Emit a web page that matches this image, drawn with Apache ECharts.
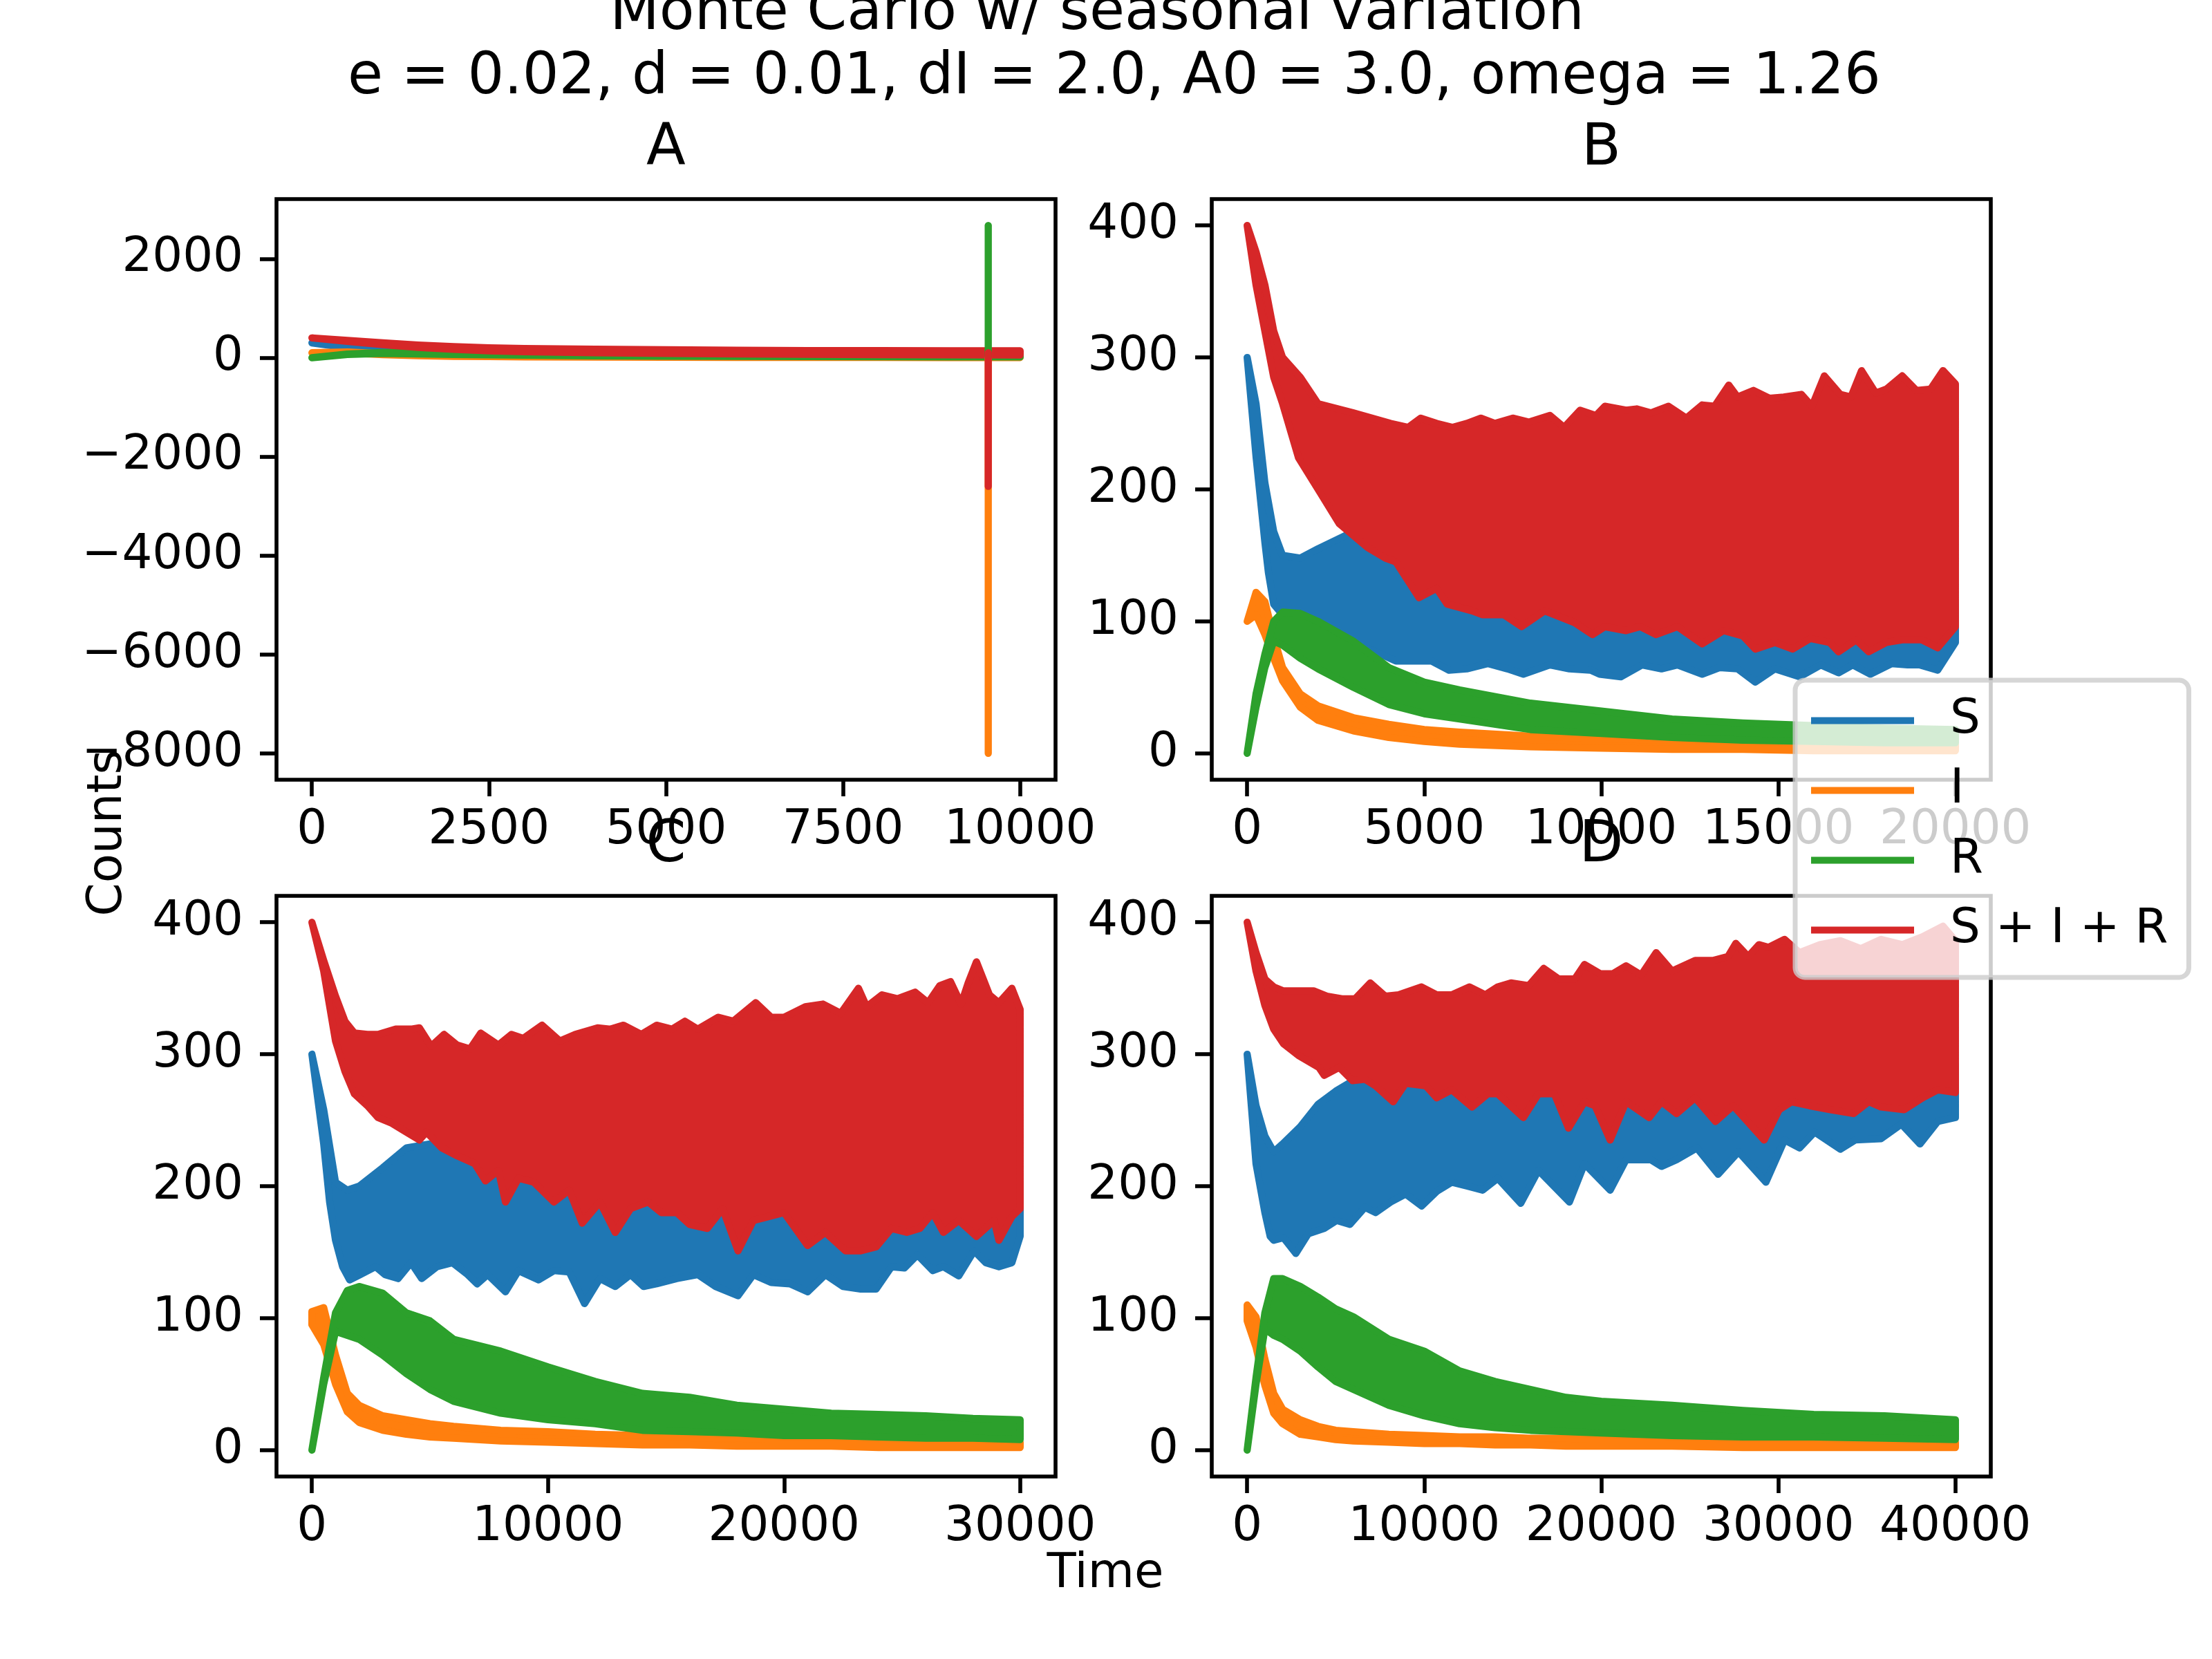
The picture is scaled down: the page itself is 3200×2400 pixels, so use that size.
<!DOCTYPE html>
<html>
<head>
<meta charset="utf-8">
<script src="https://cdn.jsdelivr.net/npm/echarts@6/dist/echarts.min.js"></script>
<style>
  html, body { margin: 0; padding: 0; background: #fff; }
  #chart { width: 3200px; height: 2400px; }
</style>
</head>
<body>
<div id="chart"></div>
<script>
// data: lower / upper edge of each noisy band
// --- run A (10000 steps)
var timeA = [0, 500, 1000, 1500, 2000, 2500, 3000, 4000, 5000, 6000, 7000, 8000, 9000, 10000]
var sLoA = [300, 200, 130, 110, 100, 90, 80, 70, 65, 62, 60, 58, 58, 58]
var sHiA = [300, 240, 180, 160, 160, 155, 150, 140, 130, 120, 115, 112, 110, 110]
var iLoA = [100, 95, 60, 40, 28, 22, 17, 12, 9, 7, 6, 5, 4, 4]
var iHiA = [100, 115, 80, 55, 40, 32, 27, 22, 18, 15, 13, 12, 11, 10]
var rLoA = [0, 65, 85, 75, 65, 58, 50, 37, 30, 26, 22, 18, 16, 15]
var rHiA = [0, 75, 105, 105, 100, 92, 85, 65, 54, 48, 42, 38, 35, 32]
var totLoA = [400, 330, 265, 210, 170, 140, 120, 100, 85, 75, 68, 62, 58, 55]
var totHiA = [400, 350, 300, 255, 225, 200, 185, 170, 160, 150, 145, 142, 140, 140]
// the single bad step in run A
var spikeTimeA = 9550
var iSpikeA = [8, -8000]
var rSpikeA = [25, 2673]
var totSpikeA = [100, -2600]

// --- run B (20000 steps)
var timeB = [0, 250, 500, 750, 1000, 1500, 2000, 3000, 4000, 5000, 6000, 8000, 10000, 12000, 14000, 16000, 18000, 20000]
var sHiB = [300, 265, 205, 168, 150, 148, 155, 168, 160, 150, 140, 130, 120, 115, 112, 112, 112, 115]
var iLoB = [100, 105, 90, 72, 55, 35, 25, 17, 12, 9, 7, 5, 4, 3, 3, 2, 2, 2]
var iHiB = [100, 122, 115, 88, 65, 45, 36, 27, 22, 18, 16, 13, 11, 10, 9, 8, 8, 7]
var rLoB = [0, 35, 65, 85, 82, 72, 64, 50, 37, 30, 26, 18, 15, 12, 10, 9, 8, 8]
var rHiB = [0, 45, 75, 100, 107, 106, 100, 85, 65, 54, 48, 38, 32, 26, 23, 21, 19, 18]
var tSLoB = [0, 250, 500, 600, 750, 1000, 1450, 2050, 2750, 3450, 4200, 5200, 5700, 6200, 6800, 7350, 7800, 8550, 9100, 9700,
    9950, 10550, 11150, 11700, 12150, 12850, 13350, 13850, 14350, 14900, 15600, 16200, 16700, 17100, 17600, 18200, 18650, 19000, 19500, 20000]
var sLoB = [300, 225, 160, 137, 113, 105, 99, 93, 84, 79, 70, 70, 63, 64, 68, 64, 60, 67, 64, 63,
    60, 58, 67, 64, 67, 60, 65, 64, 54, 64, 58, 67, 61, 67, 60, 68, 67, 67, 63, 84]
var tTotHiB = [0, 250, 500, 750, 1000, 1500, 2000, 3000, 4050, 4550, 4900, 5350, 5800, 6200, 6600, 7000, 7500, 7950,
    8550, 8950, 9400, 9850, 10100, 10700, 11000, 11400, 11900, 12400, 12850, 13200, 13600, 13850, 14300, 14750, 15150,
    15650, 15950, 16300, 16750, 17050, 17350, 17750, 18050, 18500, 18900, 19300, 19650, 20000]
var totHiB = [400, 380, 355, 320, 300, 285, 265, 258, 250, 247, 254, 250, 247, 250, 254, 250, 254, 251,
    256, 247, 260, 256, 263, 260, 261, 258, 263, 254, 264, 263, 279, 270, 275, 269, 270,
    272, 263, 286, 272, 270, 290, 273, 276, 286, 275, 276, 290, 280]
var tTotLoB = [0, 250, 500, 750, 1000, 1450, 2050, 2600, 3400, 3900, 4200, 4850, 5350, 5650, 6350, 6650, 7250, 7750, 8400, 9250,
    9750, 10100, 10700, 11100, 11550, 12150, 12850, 13450, 14000, 14350, 14900, 15400, 15900, 16450, 16700, 17200, 17550,
    18050, 18500, 19050, 19500, 20000]
var totLoB = [400, 355, 320, 285, 265, 224, 198, 174, 156, 148, 145, 118, 125, 113, 108, 105, 105, 96, 108, 99,
    90, 96, 93, 96, 90, 96, 83, 93, 89, 79, 84, 79, 87, 84, 77, 86, 77,
    84, 86, 86, 80, 96]

// --- run C (30000 steps)
var timeC = [0, 500, 1000, 1500, 2000, 3000, 4000, 5000, 6000, 8000, 10000, 12000, 14000, 16000, 18000, 20000, 22000, 24000, 26000, 28000, 30000]
var sHiC = [300, 258, 203, 197, 200, 214, 229, 232, 226, 220, 215, 210, 205, 198, 195, 195, 190, 190, 195, 195, 200]
var iLoC = [95, 80, 50, 29, 21, 15, 12, 10, 9, 7, 6, 5, 4, 4, 3, 3, 3, 2, 2, 2, 2]
var iHiC = [105, 108, 72, 43, 34, 26, 23, 20, 18, 15, 14, 12, 11, 10, 9, 8, 8, 7, 7, 6, 6]
var rLoC = [0, 50, 90, 87, 84, 72, 58, 46, 37, 28, 23, 20, 15, 14, 13, 11, 11, 10, 9, 9, 8]
var rHiC = [0, 55, 104, 121, 124, 119, 104, 98, 84, 75, 63, 52, 43, 40, 34, 31, 28, 27, 26, 24, 23]
var tSLoC = [0, 500, 750, 1000, 1300, 1600, 2050, 2700, 3100, 3650, 4200, 4650, 5300, 5950, 6600, 7000, 7450, 8200, 8750, 9600,
    10250, 10900, 11550, 12200, 12850, 13500, 14050, 14600, 15450, 16350, 17100, 18050, 18700, 19450, 20250, 21000, 21750,
    22500, 23250, 23900, 24550, 25100, 25650, 26300, 26750, 27400, 28050, 28550, 29100, 29650, 30000]
var sLoC = [300, 232, 188, 159, 139, 129, 133, 139, 133, 130, 142, 130, 139, 142, 133, 126, 133, 120, 136, 129,
    136, 135, 111, 130, 124, 133, 124, 126, 130, 133, 124, 117, 133, 127, 126, 120, 133,
    124, 122, 122, 139, 138, 148, 136, 139, 132, 151, 142, 139, 142, 162]
var tTotHiC = [0, 500, 1000, 1400, 1800, 2350, 2800, 3550, 4200, 4550, 5050, 5600, 6150, 6700, 7150, 7900, 8450, 8950, 9750, 10500,
    11150, 12100, 12650, 13200, 13950, 14600, 15250, 15800, 16350, 17200, 17850, 18800, 19450, 20000, 20900, 21650, 22400,
    23150, 23500, 24150, 24800, 25550, 26100, 26600, 27050, 27500, 27800, 28150, 28700, 29100, 29650, 30000]
var totHiC = [400, 371, 344, 325, 316, 315, 315, 319, 319, 320, 306, 315, 307, 304, 316, 307, 315, 312, 322, 310,
    315, 320, 319, 322, 315, 322, 319, 325, 319, 328, 325, 339, 328, 328, 336, 338, 331,
    350, 336, 345, 342, 347, 339, 352, 355, 338, 354, 370, 345, 339, 350, 334]
var tTotLoC = [0, 500, 1000, 1400, 1800, 2350, 2800, 3350, 4000, 4550, 4850, 5500, 6150, 6900, 7350, 7900, 8200, 8750, 9400, 10250,
    10900, 11450, 12200, 12850, 13500, 14250, 14800, 15450, 16000, 16750, 17400, 18050, 18700, 19350, 20000, 21000, 21750,
    22600, 23250, 23900, 24550, 25200, 25750, 26300, 26750, 27400, 28150, 28900, 29100, 29650, 30000]
var totLoC = [400, 363, 310, 287, 270, 261, 252, 248, 241, 235, 241, 229, 223, 217, 204, 212, 188, 206, 203, 188,
    197, 172, 188, 165, 183, 188, 180, 180, 171, 168, 183, 151, 174, 177, 180, 155, 165,
    151, 151, 154, 168, 165, 168, 180, 165, 174, 162, 174, 159, 177, 183]

// --- run D (40000 steps)
var timeD = [0, 500, 1000, 1500, 2000, 3000, 4000, 5000, 6000, 8000, 10000, 12000, 14000, 16000, 18000, 20000, 24000, 28000, 32000, 36000, 40000]
var sHiD = [300, 261, 238, 226, 232, 245, 262, 272, 280, 285, 285, 285, 285, 285, 285, 285, 285, 285, 288, 290, 292]
var iLoD = [98, 78, 49, 28, 20, 12, 10, 8, 7, 6, 5, 5, 4, 4, 3, 3, 3, 2, 2, 2, 2]
var iHiD = [110, 101, 69, 43, 31, 23, 18, 15, 14, 12, 11, 10, 10, 9, 9, 8, 7, 7, 6, 6, 6]
var rLoD = [0, 50, 92, 87, 84, 75, 63, 52, 46, 34, 26, 20, 17, 15, 14, 13, 11, 10, 10, 9, 8]
var rHiD = [0, 55, 104, 130, 130, 124, 116, 107, 101, 84, 75, 60, 52, 46, 40, 37, 34, 30, 27, 26, 23]
var tSLoD = [0, 500, 1000, 1300, 1500, 2050, 2750, 3450, 4350, 5050, 5800, 6650, 7250, 8100, 8950, 9850, 10700, 11550, 12450, 13300,
    14150, 15450, 16450, 18200, 19050, 20500, 21400, 22800, 23400, 24250, 25400, 26600, 27750, 29300, 30350, 31200, 32050,
    33500, 34350, 35800, 36950, 38000, 39000, 40000]
var sLoD = [300, 217, 180, 162, 159, 161, 149, 164, 168, 174, 171, 184, 180, 188, 194, 185, 196, 203, 200, 197,
    206, 187, 212, 188, 217, 197, 220, 220, 215, 220, 229, 209, 226, 203, 235, 229, 241,
    228, 235, 236, 247, 232, 249, 252]
var tTotHiD = [0, 500, 1000, 1500, 2050, 2900, 3750, 4500, 5350, 6100, 6950, 7800, 8550, 9850, 10700, 11550, 12550, 13450, 14150, 14900,
    15900, 16750, 17600, 18500, 19050, 19950, 20650, 21400, 22250, 23100, 24000, 25300, 26300, 27150, 27600, 28300, 28900,
    29450, 30350, 31200, 32350, 33500, 34650, 35800, 37000, 38150, 39300, 40000]
var totHiD = [400, 377, 357, 351, 348, 348, 348, 344, 342, 342, 354, 344, 345, 351, 345, 345, 351, 345, 351, 354,
    352, 365, 357, 357, 368, 361, 361, 367, 360, 377, 363, 371, 371, 374, 384, 374, 383,
    381, 387, 377, 383, 386, 380, 387, 383, 389, 397, 386]
var tTotLoD = [0, 500, 1000, 1500, 2050, 2900, 4050, 4350, 5200, 5950, 6650, 7250, 8250, 8950, 10100, 10700, 11550, 12700, 13600, 14150,
    15600, 16450, 17350, 18150, 19050, 19650, 20500, 21400, 22700, 23400, 24250, 25300, 26450, 27450, 29200, 30050, 30750,
    31750, 32950, 34250, 35100, 35800, 37100, 38150, 39000, 40000]
var totLoD = [400, 363, 337, 319, 308, 299, 290, 284, 290, 280, 281, 276, 264, 278, 276, 267, 273, 260, 270, 270,
    252, 270, 270, 244, 264, 261, 235, 264, 252, 264, 255, 267, 249, 261, 235, 258, 264,
    261, 258, 255, 264, 260, 258, 267, 273, 271]

// tick labels
var xTicksA = [0, 2500, 5000, 7500, 10000]
var xTicksB = [0, 5000, 10000, 15000, 20000]
var xTicksC = [0, 10000, 20000, 30000]
var xTicksD = [0, 10000, 20000, 30000, 40000]
var yTicksA = [-8000, -6000, -4000, -2000, 0, 2000]
var yTicksSIR = [0, 100, 200, 300, 400]

var names = ['S', 'I', 'R', 'S + I + R']
var colors = ['#1f77b4', '#ff7f0e', '#2ca02c', '#d62728']
var panelTitles = ['A', 'B', 'C', 'D']

// layout (px) — matplotlib 2x2 subplots at 500 dpi
var FONT = 'DejaVu Sans'
var LW = 10.4
var gridPos = [
    {left: 400, top: 288},
    {left: 1753, top: 288},
    {left: 400, top: 1296},
    {left: 1753, top: 1296}
]
var GW = 1127, GH = 840
var xRanges = [[-500, 10500], [-1000, 21000], [-1500, 31500], [-2000, 42000]]
var yRanges = [[-8533, 3207], [-20, 420], [-20, 420], [-20, 420]]

function band(tHi, hi, tLo, lo) {
    return {tHi: tHi, hi: hi, tLo: tLo, lo: lo}
}

var panels = [
    {bands: [band(timeA, sHiA, timeA, sLoA), band(timeA, iHiA, timeA, iLoA), band(timeA, rHiA, timeA, rLoA), band(timeA, totHiA, timeA, totLoA)],
     xt: xTicksA, yt: yTicksA, spikes: [null, iSpikeA, rSpikeA, totSpikeA]},
    {bands: [band(timeB, sHiB, tSLoB, sLoB), band(timeB, iHiB, timeB, iLoB), band(timeB, rHiB, timeB, rLoB), band(tTotHiB, totHiB, tTotLoB, totLoB)],
     xt: xTicksB, yt: yTicksSIR},
    {bands: [band(timeC, sHiC, tSLoC, sLoC), band(timeC, iHiC, timeC, iLoC), band(timeC, rHiC, timeC, rLoC), band(tTotHiC, totHiC, tTotLoC, totLoC)],
     xt: xTicksC, yt: yTicksSIR},
    {bands: [band(timeD, sHiD, tSLoD, sLoD), band(timeD, iHiD, timeD, iLoD), band(timeD, rHiD, timeD, rLoD), band(tTotHiD, totHiD, tTotLoD, totLoD)],
     xt: xTicksD, yt: yTicksSIR}
]

function fmt(v) {
    return v < 0 ? '\u2212' + Math.abs(v) : String(v)
}

var grids = [], xAxes = [], yAxes = [], series = []
panels.forEach(function (p, gi) {
    grids.push({
        left: gridPos[gi].left, top: gridPos[gi].top, width: GW, height: GH,
        show: true, borderColor: '#000', borderWidth: 5.6, backgroundColor: 'transparent',
        containLabel: false, outerBoundsMode: 'none'
    })
    var tickStyle = {show: true, length: 24, lineStyle: {color: '#000', width: 5.6}}
    var labelStyle = {color: '#000', fontFamily: FONT, fontSize: 69, lineHeight: 69, formatter: fmt}
    xAxes.push({
        type: 'value', gridIndex: gi, min: xRanges[gi][0], max: xRanges[gi][1], position: 'bottom',
        axisLine: {show: false, onZero: false}, splitLine: {show: false},
        axisTick: Object.assign({customValues: p.xt}, tickStyle),
        axisLabel: Object.assign({customValues: p.xt, margin: 40}, labelStyle)
    })
    yAxes.push({
        type: 'value', gridIndex: gi, min: yRanges[gi][0], max: yRanges[gi][1], position: 'left',
        axisLine: {show: false, onZero: false}, splitLine: {show: false},
        axisTick: Object.assign({customValues: p.yt}, tickStyle),
        axisLabel: Object.assign({customValues: p.yt, margin: 48}, labelStyle)
    })
    p.bands.forEach(function (b, si) {
        // outline: upper edge left->right, then lower edge right->left
        var outline = b.tHi.map(function (t, k) { return [t, b.hi[k]] })
        for (var k = b.tLo.length - 1; k >= 0; k--) outline.push([b.tLo[k], b.lo[k]])
        series.push({
            type: 'custom', name: names[si], xAxisIndex: gi, yAxisIndex: gi,
            coordinateSystem: 'cartesian2d', silent: true, color: colors[si],
            encode: {x: 0, y: 1},
            data: outline,
            renderItem: function (params, api) {
                if (params.dataIndex !== 0) return null
                var pts = outline.map(function (r) { return api.coord(r) })
                return {
                    type: 'polygon', shape: {points: pts},
                    style: {fill: colors[si], stroke: colors[si], lineWidth: LW, lineJoin: 'round'}
                }
            }
        })
        if (p.spikes && p.spikes[si]) {
            series.push({
                type: 'line', name: names[si], xAxisIndex: gi, yAxisIndex: gi,
                symbol: 'none', silent: true, color: colors[si],
                lineStyle: {color: colors[si], width: LW, cap: 'round'},
                data: p.spikes[si].map(function (v) { return [spikeTimeA, v] })
            })
        }
    })
})

function label(text, x, y, size, rot) {
    return {
        type: 'text', x: x, y: y, rotation: rot || 0, z: 10,
        style: {
            text: text, fill: '#000', fontFamily: FONT, fontSize: size,
            align: 'center', verticalAlign: 'middle', textAlign: 'center', textVerticalAlign: 'middle'
        }
    }
}

var graphics = [
    label('Monte Carlo w/ seasonal variation', 1587, 20, 83),
    label('e = 0.02, d = 0.01, dI = 2.0, A0 = 3.0, omega = 1.26', 1612, 113, 83),
    label('Counts', 157, 1205, 69, Math.PI / 2),
    label('Time', 1599, 2278, 69)
]
panelTitles.forEach(function (t, gi) {
    graphics.push(label(t, gridPos[gi].left + GW / 2, gridPos[gi].top - 72, 83))
})

var option = {
    animation: false,
    backgroundColor: '#fff',
    grid: grids,
    xAxis: xAxes,
    yAxis: yAxes,
    legend: {
        data: names.map(function (n, i) { return {name: n, itemStyle: {color: colors[i]}} }),
        orient: 'vertical', left: 2597, top: 984,
        icon: 'rect', itemWidth: 149, itemHeight: 10, itemGap: 32,
        padding: [24, 30, 34, 23], selectedMode: false,
        backgroundColor: 'rgba(255,255,255,0.8)', borderColor: 'rgba(204,204,204,0.8)',
        borderWidth: 7, borderRadius: 14,
        textStyle: {color: '#000', fontFamily: FONT, fontSize: 69, lineHeight: 69, padding: [0, 0, 0, 47]}
    },
    graphic: graphics,
    series: series
}

var chart = echarts.init(document.getElementById('chart'), null, {renderer: 'canvas', width: 3200, height: 2400, devicePixelRatio: 1})
chart.setOption(option)
window.addEventListener('resize', function () { chart.resize() })
</script>
</body>
</html>
